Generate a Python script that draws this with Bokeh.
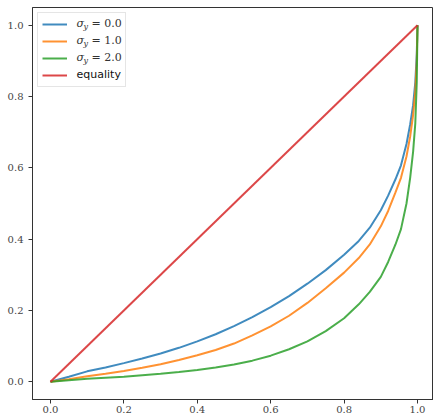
from bokeh.plotting import figure
from bokeh.models import Range1d, FixedTicker, Legend, LegendItem, Label, CustomJSTickFormatter
from bokeh.embed import file_html
from bokeh.resources import INLINE

# data
f_vals = [0, 0.05, 0.1, 0.15, 0.2, 0.25, 0.3, 0.35, 0.4, 0.45, 0.5, 0.55, 0.6, 0.65, 0.7,
          0.75, 0.8, 0.84, 0.87, 0.9, 0.92, 0.94, 0.955, 0.97, 0.98, 0.988, 0.994, 0.998, 1.0]
l_sigma0 = [0, 0.014, 0.029, 0.040, 0.052, 0.065, 0.079, 0.095, 0.113, 0.133, 0.156, 0.181,
            0.209, 0.240, 0.275, 0.313, 0.356, 0.395, 0.432, 0.481, 0.522, 0.568, 0.607,
            0.667, 0.722, 0.776, 0.84, 0.92, 1.0]
l_sigma1 = [0, 0.007, 0.015, 0.022, 0.030, 0.039, 0.049, 0.061, 0.074, 0.089, 0.107, 0.130,
            0.155, 0.185, 0.221, 0.262, 0.306, 0.347, 0.385, 0.436, 0.479, 0.531, 0.572,
            0.632, 0.688, 0.748, 0.815, 0.90, 1.0]
l_sigma2 = [0, 0.004, 0.008, 0.011, 0.014, 0.018, 0.022, 0.027, 0.033, 0.040, 0.048, 0.059,
            0.073, 0.091, 0.113, 0.142, 0.178, 0.217, 0.252, 0.294, 0.336, 0.385, 0.428,
            0.50, 0.572, 0.645, 0.725, 0.84, 1.0]
eq_x = [0, 1]
eq_y = [0, 1]
sigma_labels = ["0.0", "1.0", "2.0"]
ticks = [0.0, 0.2, 0.4, 0.6, 0.8, 1.0]

colors = ["#1f77b4", "#ff7f0e", "#2ca02c", "#d62728"]
serif = "DejaVu Serif"

p = figure(frame_width=401, frame_height=392, output_backend="svg", toolbar_location=None,
           x_range=Range1d(-0.049, 1.0436), y_range=Range1d(-0.05, 1.05),
           min_border_left=32, min_border_top=7, min_border_right=0, min_border_bottom=19)
p.xgrid.visible = False
p.ygrid.visible = False
p.outline_line_color = "#333333"
p.outline_line_width = 1

for ax in (p.xaxis[0], p.yaxis[0]):
    ax.ticker = FixedTicker(ticks=ticks)
    ax.formatter = CustomJSTickFormatter(code="return tick.toFixed(1);")
    ax.minor_tick_line_color = None
    ax.major_tick_out = 4
    ax.major_tick_in = 0
    ax.axis_line_color = "#333333"
    ax.major_tick_line_color = "#333333"
    ax.major_label_text_font = serif
    ax.major_label_text_font_size = "10px"
    ax.major_label_text_color = "#444444"
p.xaxis[0].major_label_standoff = 2
p.yaxis[0].major_label_standoff = 5

renderers = []
for ys, c in zip([l_sigma0, l_sigma1, l_sigma2], colors[:3]):
    r = p.line(f_vals, ys, line_color=c, line_width=2, line_alpha=0.85)
    renderers.append(r)
r_eq = p.line(eq_x, eq_y, line_color=colors[3], line_width=2, line_alpha=0.85)
renderers.append(r_eq)

legend = Legend(items=[LegendItem(label=" ", renderers=[r]) for r in renderers],
                location="top_left", margin=5, padding=4, spacing=3,
                glyph_width=25, glyph_height=14, label_height=14, label_width=45,
                label_standoff=9, border_line_color="#cccccc", border_line_width=1,
                background_fill_color=None)
p.add_layout(legend)

# legend texts (math-style sigma_y labels)
row0 = 376
for i, s in enumerate(sigma_labels):
    yc = row0 - 17 * i
    p.add_layout(Label(x=44, y=yc, x_units="screen", y_units="screen", text="σ",
                       text_font=serif, text_font_style="italic",
                       text_font_size="11px", text_baseline="middle", text_color="#333333"))
    p.add_layout(Label(x=51, y=yc - 3, x_units="screen", y_units="screen", text="y",
                       text_font=serif, text_font_style="italic",
                       text_font_size="8px", text_baseline="middle", text_color="#333333"))
    p.add_layout(Label(x=59, y=yc, x_units="screen", y_units="screen", text="= " + s,
                       text_font=serif,
                       text_font_size="11px", text_baseline="middle", text_color="#333333"))
p.add_layout(Label(x=44, y=row0 - 51, x_units="screen", y_units="screen", text="equality",
                   text_font="DejaVu Sans", text_font_size="11px", text_baseline="middle",
                   text_color="#111111"))

open("out.html", "w").write(file_html(p, INLINE))
